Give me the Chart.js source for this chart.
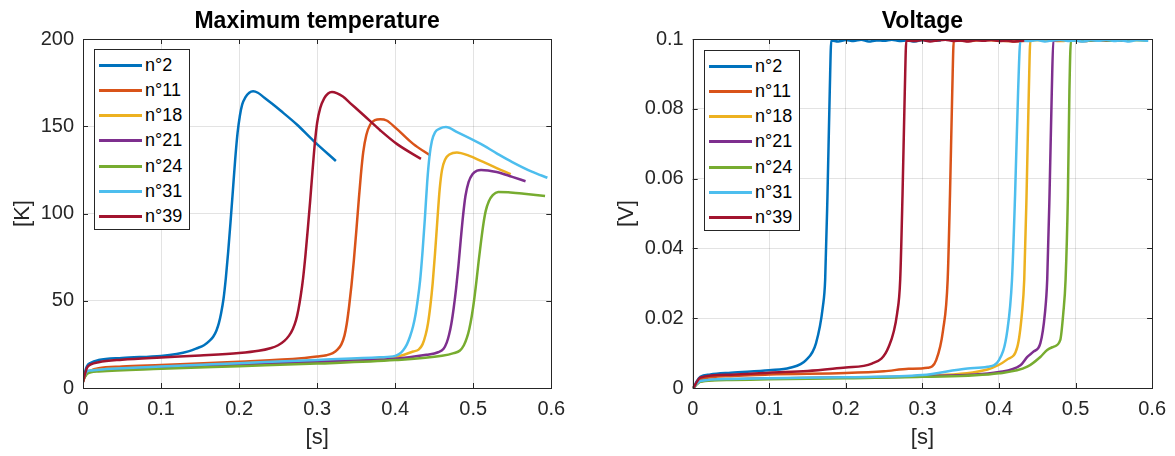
<!DOCTYPE html>
<html>
<head>
<meta charset="utf-8">
<script src="https://cdn.jsdelivr.net/npm/chart.js@4.4.1/dist/chart.umd.min.js"></script>
<style>
  body { margin: 0; background: #fff; width: 1175px; height: 456px; overflow: hidden; position: relative; font-family: "Liberation Sans", Arial, sans-serif; }
  canvas { position: absolute; top: 0; }
  #tempChart { left: 0; }
  #voltChart { left: 590px; }
  .legend { position: absolute; box-sizing: border-box; border: 1px solid #262626; background: #fff; width: 96px; height: 181px; }
  .legend .row { position: absolute; left: 0; height: 25px; display: flex; align-items: center; }
  .legend .swatch { margin-left: 4px; width: 43px; height: 3px; }
  .legend .txt { margin-left: 3px; font-size: 18px; color: #000; }
</style>
</head>
<body>
<canvas id="tempChart" width="590" height="456"></canvas>
<canvas id="voltChart" width="585" height="456"></canvas>
<div class="legend" id="legTemp" style="left:94px; top:49px;"></div>
<div class="legend" id="legVolt" style="left:704px; top:50px;"></div>
<script>
const seriesNames = ["n°2", "n°11", "n°18", "n°21", "n°24", "n°31", "n°39"];
const colors = ["#0072BD", "#D95319", "#EDB120", "#7E2F8E", "#77AC30", "#4DBEEE", "#A2142F"];
const xTicks = [0, 0.1, 0.2, 0.3, 0.4, 0.5, 0.6];

// maximum temperature [K] vs time [s]
const tT_n2 = [0, 0.002, 0.005, 0.01, 0.02, 0.05, 0.1, 0.12, 0.135, 0.146, 0.155, 0.162, 0.167, 0.171, 0.174, 0.177, 0.18, 0.183, 0.186, 0.189, 0.192, 0.195, 0.198, 0.201, 0.204, 0.208, 0.213, 0.218, 0.224, 0.232, 0.242, 0.253, 0.274, 0.295, 0.324];
const tK_n2 = [3.5, 8, 12.5, 14.5, 16, 17.2, 18.4, 19.5, 21, 22.8, 24.5, 27, 29.5, 33, 37, 43, 51, 63, 78, 95, 113, 131, 146, 156, 162.5, 166.5, 169.2, 170, 169.2, 166.5, 163, 159, 151, 141.8, 130.1];
const tT_n11 = [0, 0.002, 0.005, 0.01, 0.02, 0.05, 0.1, 0.2, 0.28, 0.3, 0.312, 0.32, 0.326, 0.331, 0.335, 0.338, 0.341, 0.344, 0.347, 0.35, 0.353, 0.356, 0.359, 0.363, 0.368, 0.374, 0.381, 0.389, 0.402, 0.423, 0.445];
const tK_n11 = [3.5, 6, 8.5, 10, 11.3, 12.3, 13.2, 15.1, 17, 18, 18.8, 20, 22, 25, 30, 37, 47, 59, 73, 89, 106, 122, 135, 145, 151, 153.5, 154, 153.3, 148.5, 139.9, 133.2];
const tT_n18 = [0, 0.002, 0.005, 0.01, 0.02, 0.1, 0.2, 0.3, 0.4, 0.423, 0.43, 0.435, 0.439, 0.442, 0.445, 0.448, 0.451, 0.454, 0.457, 0.46, 0.464, 0.47, 0.479, 0.495, 0.509, 0.53, 0.548];
const tK_n18 = [4.5, 7, 9, 10, 10.5, 12, 14, 15.8, 17.8, 20.9, 22, 25, 30.5, 37, 47, 60, 77, 96, 114, 125, 131, 134, 135, 133, 130.3, 126, 122.5];
const tT_n21 = [0, 0.002, 0.005, 0.01, 0.02, 0.1, 0.2, 0.3, 0.4, 0.44, 0.455, 0.462, 0.466, 0.469, 0.472, 0.475, 0.478, 0.481, 0.484, 0.487, 0.49, 0.494, 0.499, 0.505, 0.51, 0.53, 0.55, 0.567];
const tK_n21 = [4.5, 6.5, 8.5, 9.5, 10, 11.5, 13.3, 15, 16.8, 19, 20.5, 22.5, 26, 30.5, 37, 46, 57, 70, 85, 99, 110, 118, 122.5, 124.6, 125, 123.8, 121, 118.5];
const tT_n24 = [0, 0.002, 0.005, 0.01, 0.02, 0.1, 0.2, 0.3, 0.4, 0.46, 0.475, 0.483, 0.488, 0.492, 0.495, 0.498, 0.501, 0.504, 0.507, 0.51, 0.513, 0.516, 0.52, 0.525, 0.532, 0.545, 0.565, 0.592];
const tK_n24 = [4, 6, 8, 9, 9.5, 11, 12.5, 14, 16, 18.5, 20, 21.5, 24.5, 29, 34, 41, 50, 61, 73, 84, 94, 101.5, 107, 110.5, 112.3, 112.2, 111.3, 110];
const tT_n31 = [0, 0.002, 0.005, 0.01, 0.02, 0.05, 0.1, 0.2, 0.3, 0.38, 0.4, 0.405, 0.41, 0.415, 0.419, 0.423, 0.426, 0.429, 0.432, 0.435, 0.438, 0.441, 0.444, 0.447, 0.451, 0.457, 0.465, 0.48, 0.509, 0.53, 0.55, 0.575, 0.595];
const tK_n31 = [5, 7, 9.5, 10, 10.5, 11.3, 12.3, 14.2, 16.1, 17.6, 18.4, 19.5, 21.5, 25, 29.5, 35.5, 42, 51, 62, 78, 97, 118, 133, 141.5, 146.5, 148.6, 149.5, 146.5, 140, 134.5, 129.5, 124, 120.5];
const tT_n39 = [0, 0.002, 0.005, 0.01, 0.02, 0.05, 0.1, 0.15, 0.2, 0.225, 0.24, 0.25, 0.258, 0.264, 0.269, 0.273, 0.276, 0.279, 0.282, 0.285, 0.288, 0.291, 0.294, 0.297, 0.3, 0.304, 0.309, 0.314, 0.319, 0.325, 0.333, 0.343, 0.359, 0.381, 0.402, 0.433];
const tK_n39 = [3.5, 7, 11.5, 13.5, 14.8, 16.2, 17.5, 18.6, 20, 21.3, 22.8, 24.5, 27, 30, 34, 39, 45, 53, 63, 76, 91, 107, 124, 140, 152, 160.5, 166, 168.8, 169.6, 169, 167, 163, 156.6, 147.6, 139.9, 131.3];

// voltage [V] vs time [s]
const vT_n2 = [0, 0.002, 0.005, 0.01, 0.023, 0.05, 0.1, 0.127, 0.148, 0.161, 0.17, 0.173, 0.176, 0.179, 0.181, 0.19, 0.2, 0.21, 0.22, 0.23, 0.24, 0.25, 0.26, 0.27, 0.28, 0.29, 0.3, 0.31, 0.324];
const vV_n2 = [0, 0.0004, 0.0018, 0.0032, 0.0039, 0.0044, 0.0051, 0.0058, 0.008, 0.0128, 0.0233, 0.031, 0.055, 0.085, 0.0996, 0.0993, 0.0997, 0.0994, 0.0998, 0.0993, 0.0996, 0.0995, 0.0998, 0.0994, 0.0996, 0.0993, 0.0997, 0.0995, 0.0996];
const vT_n11 = [0, 0.002, 0.005, 0.01, 0.05, 0.1, 0.2, 0.25, 0.282, 0.307, 0.318, 0.327, 0.333, 0.336, 0.339, 0.341, 0.36, 0.38, 0.4, 0.42, 0.445];
const vV_n11 = [0, 0.0003, 0.0012, 0.0025, 0.0034, 0.0039, 0.0043, 0.0048, 0.0055, 0.0058, 0.008, 0.0166, 0.031, 0.055, 0.085, 0.0996, 0.0994, 0.0997, 0.0995, 0.0993, 0.0996];
const vT_n18 = [0, 0.002, 0.005, 0.01, 0.05, 0.1, 0.2, 0.3, 0.385, 0.411, 0.424, 0.43, 0.433, 0.436, 0.439, 0.441, 0.46, 0.48, 0.5, 0.52, 0.548];
const vV_n18 = [0, 0.0003, 0.0011, 0.0019, 0.0025, 0.0027, 0.003, 0.0035, 0.0053, 0.0082, 0.0118, 0.0214, 0.031, 0.055, 0.085, 0.0996, 0.0997, 0.0994, 0.0998, 0.0995, 0.0996];
const vT_n21 = [0, 0.002, 0.005, 0.01, 0.05, 0.1, 0.2, 0.3, 0.4, 0.428, 0.437, 0.445, 0.454, 0.46, 0.463, 0.466, 0.469, 0.471, 0.49, 0.51, 0.53, 0.55, 0.567];
const vV_n21 = [0, 0.0003, 0.0011, 0.0019, 0.0025, 0.0027, 0.003, 0.0034, 0.0046, 0.0065, 0.0089, 0.0104, 0.0128, 0.0214, 0.031, 0.055, 0.085, 0.0996, 0.0998, 0.0994, 0.0997, 0.0995, 0.0996];
const vT_n24 = [0, 0.002, 0.005, 0.01, 0.05, 0.1, 0.2, 0.3, 0.4, 0.437, 0.454, 0.463, 0.471, 0.48, 0.484, 0.487, 0.49, 0.492, 0.494, 0.51, 0.53, 0.55, 0.57, 0.592];
const vV_n24 = [0, 0.0003, 0.001, 0.0018, 0.0023, 0.0025, 0.0028, 0.0032, 0.0042, 0.0061, 0.0089, 0.0109, 0.0118, 0.0137, 0.0214, 0.031, 0.055, 0.085, 0.0996, 0.0994, 0.0998, 0.0995, 0.0997, 0.0996];
const vT_n31 = [0, 0.002, 0.005, 0.01, 0.05, 0.1, 0.2, 0.3, 0.359, 0.385, 0.4, 0.411, 0.417, 0.421, 0.425, 0.428, 0.44, 0.45, 0.46, 0.47, 0.48, 0.49, 0.5, 0.51, 0.52, 0.53, 0.54, 0.55, 0.56, 0.57, 0.58, 0.595];
const vV_n31 = [0, 0.0003, 0.0012, 0.002, 0.0026, 0.0028, 0.0031, 0.0037, 0.0056, 0.0061, 0.008, 0.0166, 0.031, 0.055, 0.085, 0.0996, 0.0994, 0.0997, 0.0993, 0.0996, 0.0998, 0.0994, 0.0996, 0.0993, 0.0997, 0.0995, 0.0998, 0.0994, 0.0996, 0.0993, 0.0997, 0.0995];
const vT_n39 = [0, 0.002, 0.005, 0.01, 0.05, 0.1, 0.15, 0.2, 0.234, 0.256, 0.267, 0.271, 0.274, 0.277, 0.279, 0.29, 0.3, 0.31, 0.32, 0.33, 0.34, 0.35, 0.36, 0.37, 0.38, 0.39, 0.4, 0.41, 0.42, 0.433];
const vV_n39 = [0, 0.0004, 0.0016, 0.003, 0.0038, 0.0044, 0.0049, 0.0059, 0.007, 0.0118, 0.0214, 0.031, 0.055, 0.085, 0.0996, 0.0994, 0.0997, 0.0993, 0.0996, 0.0998, 0.0994, 0.0996, 0.0993, 0.0997, 0.0995, 0.0998, 0.0994, 0.0996, 0.0993, 0.0996];

const tempSeries = [[tT_n2, tK_n2], [tT_n11, tK_n11], [tT_n18, tK_n18], [tT_n21, tK_n21], [tT_n24, tK_n24], [tT_n31, tK_n31], [tT_n39, tK_n39]];
const voltSeries = [[vT_n2, vV_n2], [vT_n11, vV_n11], [vT_n18, vV_n18], [vT_n21, vV_n21], [vT_n24, vV_n24], [vT_n31, vV_n31], [vT_n39, vV_n39]];

const FONT = "'Liberation Sans', Arial, sans-serif";
const AX = "#262626";

function makeDatasets(series) {
  return series.map((s, i) => ({
    label: seriesNames[i],
    data: s[0].map((x, j) => ({x: x, y: s[1][j]})),
    borderColor: colors[i],
    backgroundColor: colors[i],
    borderWidth: 2.5,
    pointRadius: 0,
    cubicInterpolationMode: "monotone",
    order: series.length - i,
    fill: false
  }));
}

const fmt = v => String(+(+v).toFixed(4));

// box around the axes, inward ticks and the title centred on the plot area
const boxPlugin = {
  id: "box",
  afterDraw(chart, args, opts) {
    const {ctx, chartArea: a, scales} = chart;
    ctx.save();
    ctx.strokeStyle = AX;
    ctx.lineWidth = 1;
    ctx.beginPath();
    scales.x.ticks.forEach(t => {
      const px = Math.round(scales.x.getPixelForValue(t.value)) + 0.5;
      ctx.moveTo(px, a.bottom); ctx.lineTo(px, a.bottom - 5);
      ctx.moveTo(px, a.top); ctx.lineTo(px, a.top + 5);
    });
    scales.y.ticks.forEach(t => {
      const py = Math.round(scales.y.getPixelForValue(t.value)) + 0.5;
      ctx.moveTo(a.left, py); ctx.lineTo(a.left + 5, py);
      ctx.moveTo(a.right, py); ctx.lineTo(a.right - 5, py);
    });
    ctx.stroke();
    ctx.strokeRect(Math.round(a.left) + 0.5, Math.round(a.top) + 0.5, Math.round(a.right - a.left), Math.round(a.bottom - a.top));
    ctx.fillStyle = "#000";
    ctx.font = "bold 23px " + FONT;
    ctx.textAlign = "center";
    ctx.textBaseline = "alphabetic";
    ctx.fillText(opts.text, (a.left + a.right) / 2, 27.5);
    ctx.restore();
  }
};

function makeChart(id, title, yLabel, series, yMax, yStep, yWidth, yTitlePad, rightPad) {
  return new Chart(id, {
    type: "line",
    data: {datasets: makeDatasets(series)},
    options: {
      responsive: false,
      animation: false,
      layout: {padding: {left: 0, right: rightPad, top: 39, bottom: 0}},
      plugins: {
        legend: {display: false},
        tooltip: {enabled: false},
        title: {display: false},
        box: {text: title}
      },
      scales: {
        x: {
          type: "linear",
          min: 0, max: 0.6,
          afterBuildTicks: s => { s.ticks = xTicks.map(v => ({value: v})); },
          afterFit: s => { s.height = 68; },
          grid: {color: "rgba(38,38,38,0.13)", drawTicks: false},
          border: {display: false},
          ticks: {color: AX, padding: 9, maxRotation: 0, font: {family: FONT, size: 20}, callback: fmt},
          title: {display: true, text: "[s]", color: AX, font: {family: FONT, size: 22}, padding: {top: 0, bottom: 5}}
        },
        y: {
          min: 0, max: yMax,
          ticks: {stepSize: yStep, color: AX, padding: 9, font: {family: FONT, size: 20}, callback: fmt},
          afterFit: s => { s.width = yWidth; },
          grid: {color: "rgba(38,38,38,0.13)", drawTicks: false},
          border: {display: false},
          title: {display: true, text: yLabel, color: AX, font: {family: FONT, size: 22}, padding: {top: yTitlePad, bottom: 0}}
        }
      }
    },
    plugins: [boxPlugin]
  });
}

const tempChart = makeChart("tempChart", "Maximum temperature", "[K]", tempSeries, 200, 50, 83, 9.5, 38.7);
const voltChart = makeChart("voltChart", "Voltage", "[V]", voltSeries, 0.1, 0.02, 102.7, 23.8, 19.3);

function buildLegend(chart, elId) {
  const box = document.getElementById(elId);
  chart.data.datasets.forEach((ds, i) => {
    const row = document.createElement("div");
    row.className = "row";
    row.style.top = (2.5 + i * 25.3) + "px";
    const sw = document.createElement("div");
    sw.className = "swatch";
    sw.style.background = ds.borderColor;
    const tx = document.createElement("span");
    tx.className = "txt";
    tx.textContent = ds.label;
    row.appendChild(sw);
    row.appendChild(tx);
    box.appendChild(row);
  });
}
buildLegend(tempChart, "legTemp");
buildLegend(voltChart, "legVolt");
</script>
</body>
</html>
